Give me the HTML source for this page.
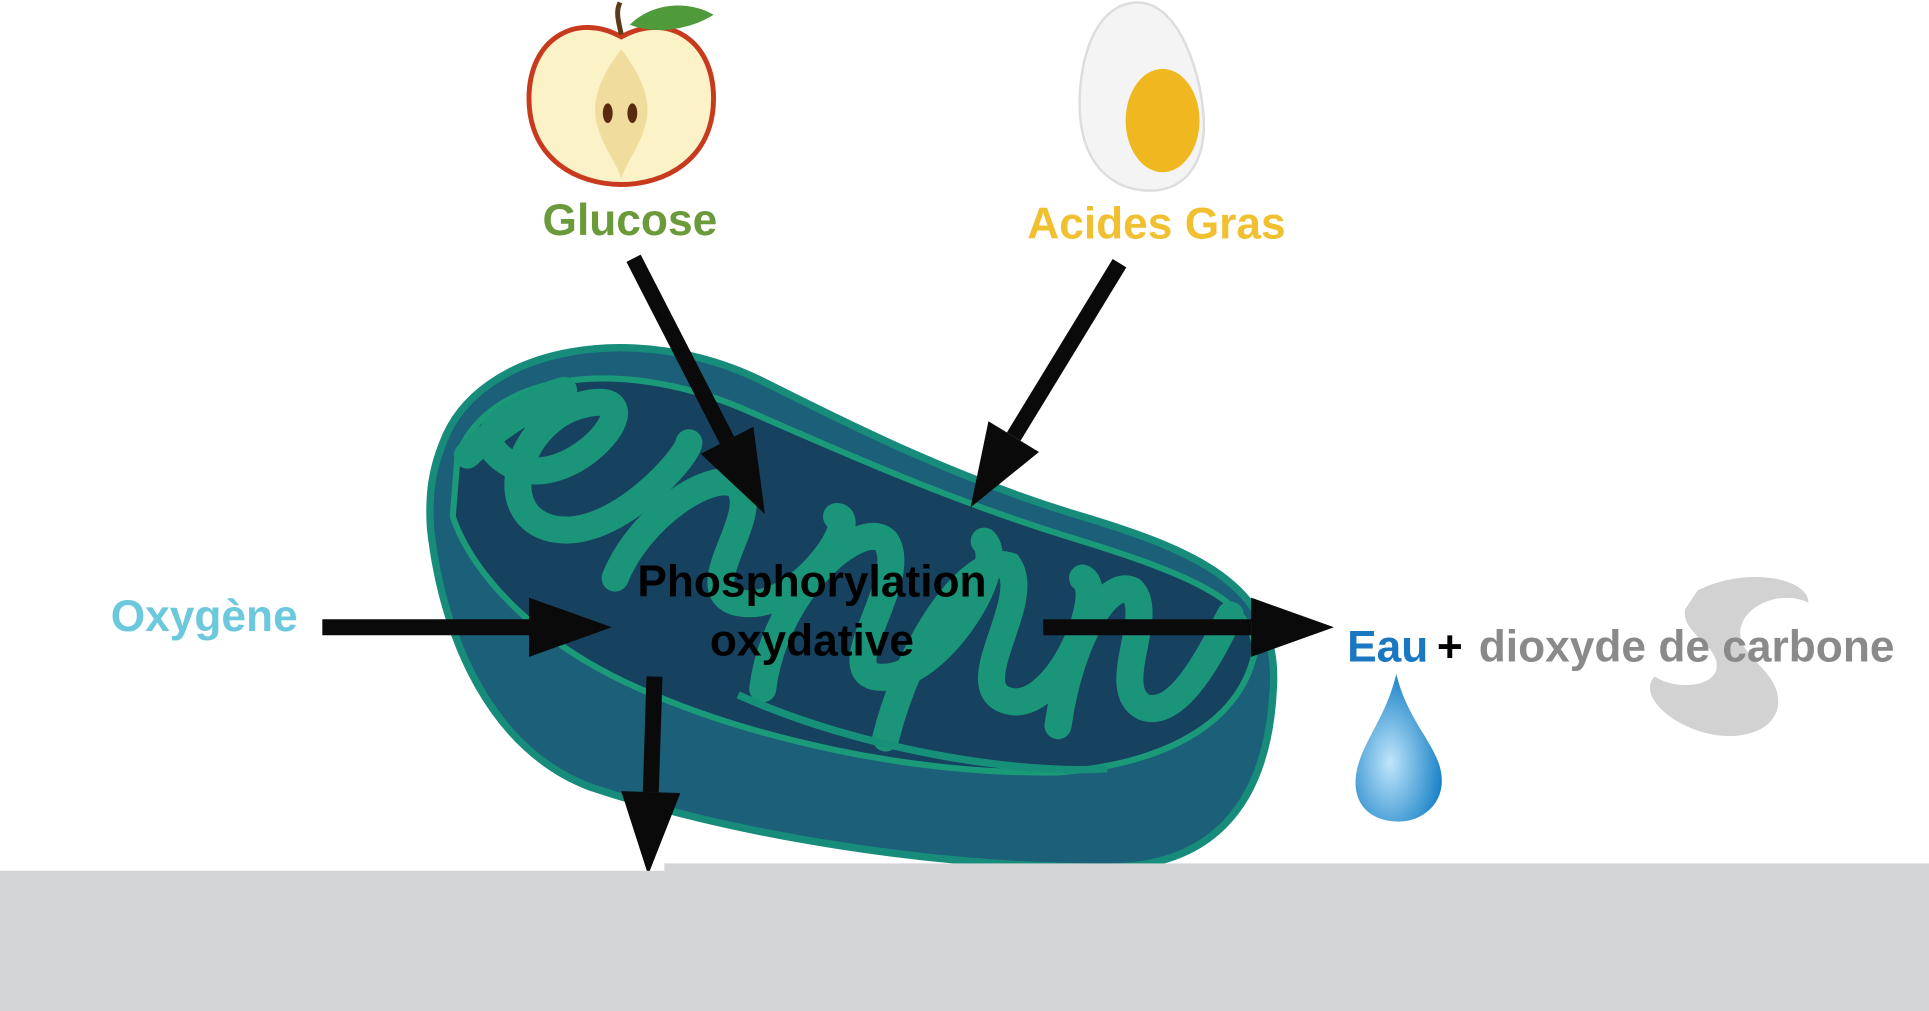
<!DOCTYPE html>
<html><head><meta charset="utf-8"><style>
html,body{margin:0;padding:0;background:#fff;overflow:hidden}
svg{display:block}
text{font-family:"Liberation Sans",sans-serif;font-weight:bold}
</style></head><body>
<svg width="1929" height="1011" viewBox="0 0 1568 822" preserveAspectRatio="none">
<defs>
<marker id="ah" viewBox="0 0 14 10" refX="0" refY="5" markerWidth="5.2" markerHeight="3.7" orient="auto" markerUnits="strokeWidth">
<path d="M0,0 L14,5 L0,10 z" fill="#0a0a0a"/></marker>
<radialGradient id="drop" cx="0.4" cy="0.6" r="0.6"><stop offset="0" stop-color="#bfe6fb"/><stop offset="1" stop-color="#1d84c8"/></radialGradient>
</defs>
<path d="M360,360 C390,280 520,260 620,310 C700,350 780,390 880,420 C980,450 1040,480 1035,560 C1030,660 980,705 900,705 C760,705 600,680 480,640 C400,610 360,520 350,430 C348,400 352,380 360,360 Z" fill="#1b5f78" stroke="#178c7a" stroke-width="6"/>
<path d="M372,370 C400,300 510,290 610,335 C690,370 780,410 880,440 C970,468 1020,490 1020,530 C1010,580 960,620 860,628 C740,630 610,600 520,560 C440,525 385,470 368,420 Z" fill="#16415f" stroke="#1a9a78" stroke-width="5"/>
<g fill="none" stroke="#1b957a" stroke-width="22" stroke-linecap="round">
<path d="M380,370 C420,330 480,310 450,320 C400,340 380,360 420,380 C470,400 540,310 470,330 C420,345 400,420 450,430 C500,440 560,370 560,360"/>
<path d="M500,470 C520,420 580,380 600,395 C620,420 560,480 600,490 C650,500 700,420 680,420"/>
<path d="M620,560 C630,480 700,420 720,440 C740,470 680,540 710,550 C760,560 820,460 800,440"/>
<path d="M720,600 C740,520 790,450 820,460 C840,490 780,560 820,570 C860,580 900,480 880,470"/>
<path d="M860,590 C870,520 900,470 920,480 C940,500 900,560 930,575 C960,585 990,520 1000,500"/>
</g>
<path d="M600,565 C700,610 830,630 900,625" stroke="#17907a" stroke-width="6" fill="none"/>
<path d="M505,30 C470,10 430,30 430,80 C430,130 470,150 505,150 C540,150 580,130 580,80 C580,30 540,10 505,30 Z" fill="#fbf2c8" stroke="#c83a1e" stroke-width="4"/>
<path d="M505,40 C490,60 480,80 485,100 C490,120 500,130 505,145 C510,130 520,120 525,100 C530,80 520,60 505,40 Z" fill="#f0dc9c"/>
<ellipse cx="494" cy="92" rx="4" ry="8" fill="#5a2a10"/><ellipse cx="514" cy="92" rx="4" ry="8" fill="#5a2a10"/>
<path d="M505,28 C503,18 500,10 504,2" stroke="#5a3a1a" stroke-width="4" fill="none"/>
<path d="M512,20 C530,2 560,0 580,12 C560,25 530,28 512,20 Z" fill="#4f9a3a"/>
<path d="M925,2 C890,2 875,50 878,95 C882,140 910,155 935,155 C965,155 982,130 978,90 C974,50 955,2 925,2 Z" fill="#f4f4f4" stroke="#ddd" stroke-width="2"/>
<ellipse cx="945" cy="98" rx="30" ry="42" fill="#f0b820"/>
<path d="M1135,548 C1125,590 1100,610 1102,640 C1104,660 1120,668 1137,668 C1155,668 1172,655 1172,635 C1172,608 1145,590 1135,548 Z" fill="url(#drop)"/>
<path d="M1380,480 C1420,460 1470,470 1470,490 C1450,480 1420,490 1415,510 C1410,535 1450,545 1445,575 C1440,600 1400,605 1370,590 C1345,578 1335,560 1345,550 C1360,560 1390,560 1395,545 C1400,525 1365,515 1370,495 Z" fill="#d2d2d2"/>
<g stroke="#0a0a0a" stroke-width="13" fill="none" marker-end="url(#ah)">
<line x1="515" y1="210" x2="591" y2="358"/>
<line x1="910" y1="214" x2="824" y2="355"/>
<line x1="262" y1="510" x2="430" y2="510"/>
<line x1="848" y1="510" x2="1017" y2="510"/>
<line x1="532" y1="550" x2="529" y2="644"/>
</g>
<rect x="0" y="708" width="1568" height="114" fill="#d4d5d7"/>
<rect x="540" y="702" width="1028" height="10" fill="#d4d5d7"/>
<text x="512" y="191" font-size="36" fill="#6a9a3a" text-anchor="middle">Glucose</text>
<text x="940" y="194" font-size="36" fill="#f0c030" text-anchor="middle">Acides Gras</text>
<text x="166" y="513" font-size="36" fill="#6cc8dc" text-anchor="middle">Oxygène</text>
<text x="660" y="485" font-size="36" fill="#000" text-anchor="middle">Phosphorylation</text>
<text x="660" y="533" font-size="36" fill="#000" text-anchor="middle">oxydative</text>
<text x="1095" y="538" font-size="36" fill="#1a78c0">Eau</text>
<text x="1168" y="538" font-size="36" fill="#000">+</text>
<text x="1202" y="538" font-size="36" fill="#8a8a8a">dioxyde de carbone</text>
</svg>
</body></html>
